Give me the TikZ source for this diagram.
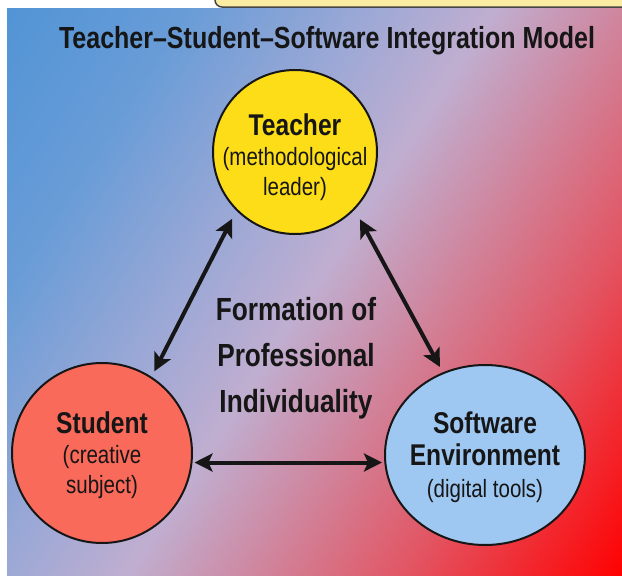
\documentclass[tikz,border=0pt]{standalone}
\usepackage{fontspec}
\usetikzlibrary{arrows.meta,shapes.geometric}
\newfontfamily\diagfont{Liberation Sans}[FakeStretch=0.82]

% background stops, blue (top left) to red (bottom right)
\definecolor{bgA}{RGB}{82,148,214}
\definecolor{bgB}{RGB}{104,156,215}
\definecolor{bgC}{RGB}{155,168,214}
\definecolor{bgD}{RGB}{192,174,208}
\definecolor{bgE}{RGB}{208,132,156}
\definecolor{bgF}{RGB}{226,86,100}
\definecolor{bgG}{RGB}{255,0,0}
\definecolor{ink}{RGB}{22,22,22}
\definecolor{teacherfill}{RGB}{252,221,24}
\definecolor{studentfill}{RGB}{250,106,90}
\definecolor{softwarefill}{RGB}{158,200,242}
\definecolor{notefill}{RGB}{250,236,160}
\definecolor{noteline}{RGB}{70,70,70}

\pgfdeclarehorizontalshading{diagbg}{100bp}{%
  color(0bp)=(bgA); color(25bp)=(bgA); color(34.08bp)=(bgB);
  color(43.16bp)=(bgC); color(49.82bp)=(bgD); color(56.48bp)=(bgE);
  color(63.74bp)=(bgF); color(75bp)=(bgG); color(100bp)=(bgG)}

\tikzset{
  actor/.style={draw=ink, line width=2pt, inner sep=0pt},
  titletext/.style={font=\diagfont\bfseries\fontsize{30.5}{36}\selectfont, text=ink, inner sep=0pt},
  coretext/.style={font=\diagfont\bfseries\fontsize{32}{46}\selectfont, text=ink, align=center, inner sep=0pt},
  actortext/.style={font=\diagfont\fontsize{25}{30}\selectfont, text=ink, align=center, inner sep=0pt},
  bigword/.style={},
  biarrow/.style={draw=ink, line width=4pt, >={Stealth[length=18pt,width=18pt,inset=4pt]}, <->},
  notebox/.style={fill=notefill, draw=noteline, line width=1.5pt, rounded corners=7pt}
}
\newcommand{\actorname}[1]{{\bfseries\fontsize{30}{30}\selectfont #1}}

\begin{document}
\begin{tikzpicture}[x=1pt,y=-1pt]
\useasboundingbox (0,0) rectangle (622,576);
\clip (0,0) rectangle (622,576);
\fill[white] (0,0) rectangle (622,576);

% diagonal background
\begin{scope}
  \clip (7,8) rectangle (622,576);
  \begin{scope}[transform canvas={shift={(7,8)}, rotate=-33}]
    \shade[shading=diagbg] (0,-340) rectangle (826,480);
  \end{scope}
\end{scope}

% note box along the top edge
\path[notebox] (215,-30) rectangle (640,7);

% title
\node[titletext, anchor=base] (title) at (327,48) {Teacher–Student–Software Integration Model};

% the three participants
\node[actor, circle, fill=teacherfill, minimum size=164pt] (teacher) at (295,152) {};
\node[actor, circle, fill=studentfill, minimum size=180pt] (student) at (102,453) {};
\node[actor, ellipse, fill=softwarefill, minimum width=200pt, minimum height=180pt] (software) at (485,455) {};

\node[actortext] (teachertext) at (295,157) {\actorname{Teacher}\\(methodological\\leader)};
\node[actortext] (studenttext) at (102,455) {\actorname{Student}\\(creative\\subject)};
\node[actortext, font=\diagfont\fontsize{25}{32}\selectfont] (softwaretext) at (485,457) {\actorname{Software}\\\actorname{Environment}\\(digital tools)};

% central idea
\node[coretext] (core) at (296,358) {Formation of\\Professional\\Individuality};

% links
\draw[biarrow, shorten <=9pt, shorten >=6pt] (teacher.225) -- (student.57);
\draw[biarrow, shorten <=11pt, shorten >=6pt] (teacher.316) -- (software.117);
\draw[biarrow, shorten <=2pt, shorten >=2pt] (student.-6) -- (student.-6 -| software.west);
\end{tikzpicture}
\end{document}
